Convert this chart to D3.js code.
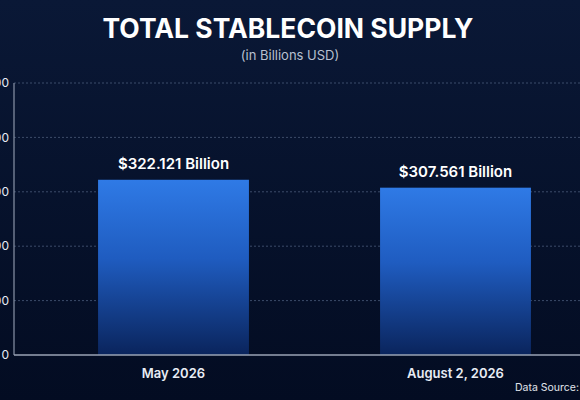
<!DOCTYPE html>
<html>
<head>
<meta charset="utf-8">
<script src="https://cdn.jsdelivr.net/npm/d3@7"></script>
<style>
  body { margin: 0; background: #04102a; overflow: hidden; }
  svg { display: block; font-family: "Inter", "Noto Sans", sans-serif; }
</style>
</head>
<body>
<svg width="580" height="400"></svg>
<script>
// chart data
const categories = ["May 2026", "August 2, 2026"];
const supply = [322.121, 307.561];
const labels = ["$322.121 Billion", "$307.561 Billion"];
const yTicks = [0, 100, 200, 300, 400, 500];

const svg = d3.select("svg");
const W = 580, H = 400;

// background gradient
const defs = svg.append("defs");
const bg = defs.append("linearGradient").attr("id", "bg").attr("x1", 0).attr("y1", 0).attr("x2", 0).attr("y2", 1);
bg.append("stop").attr("offset", "0%").attr("stop-color", "#0a1836");
bg.append("stop").attr("offset", "100%").attr("stop-color", "#030c22");
const barGrad = defs.append("linearGradient").attr("id", "bar").attr("x1", 0).attr("y1", 0).attr("x2", 0).attr("y2", 1);
barGrad.append("stop").attr("offset", "0%").attr("stop-color", "#2f7ae6");
barGrad.append("stop").attr("offset", "45%").attr("stop-color", "#1f5cc0");
barGrad.append("stop").attr("offset", "100%").attr("stop-color", "#0a245c");
svg.append("rect").attr("width", W).attr("height", H).attr("fill", "url(#bg)");

const margin = { left: 14, right: 0, top: 83, bottom: 45 };
const x = d3.scaleBand().domain(categories).range([32.5, 596.5]).paddingInner(0.465).paddingOuter(0.2325);
const y = d3.scaleLinear().domain([0, 500]).range([H - margin.bottom, margin.top]);

// gridlines
svg.append("g").selectAll("line").data(yTicks.slice(1)).join("line")
  .attr("x1", margin.left).attr("x2", W)
  .attr("y1", d => y(d)).attr("y2", d => y(d))
  .attr("stroke", "#4a5a78").attr("stroke-dasharray", "2,2").attr("stroke-width", 0.8);

// y tick labels (mostly clipped at left edge, as in the source image)
svg.append("g").selectAll("text").data(yTicks).join("text")
  .attr("x", 9).attr("y", d => y(d)).attr("dy", "0.35em")
  .attr("text-anchor", "end").attr("fill", "#e8ecf4").attr("font-size", 12)
  .text(d => d);

// bars
svg.append("g").selectAll("rect").data(supply).join("rect")
  .attr("x", (d, i) => x(categories[i]))
  .attr("width", x.bandwidth())
  .attr("y", d => y(d))
  .attr("height", d => y(0) - y(d))
  .attr("fill", "url(#bar)");

// value labels
svg.append("g").selectAll("text").data(supply).join("text")
  .attr("x", (d, i) => x(categories[i]) + x.bandwidth() / 2)
  .attr("y", d => y(d) - 11)
  .attr("text-anchor", "middle").attr("fill", "#fff")
  .attr("font-size", 15).attr("font-weight", 600)
  .text((d, i) => labels[i]);

// axes lines
svg.append("line").attr("x1", margin.left).attr("x2", margin.left)
  .attr("y1", y(500)).attr("y2", y(0)).attr("stroke", "#8a94a8").attr("stroke-width", 1.2);
svg.append("line").attr("x1", margin.left).attr("x2", W)
  .attr("y1", y(0)).attr("y2", y(0)).attr("stroke", "#9aa3b5").attr("stroke-width", 1.5);

// category labels
svg.append("g").selectAll("text").data(categories).join("text")
  .attr("x", d => x(d) + x.bandwidth() / 2)
  .attr("y", y(0) + 23)
  .attr("text-anchor", "middle").attr("fill", "#e8ecf4")
  .attr("font-size", 13).attr("font-weight", 600)
  .text(d => d);

// titles
svg.append("text").attr("x", 288).attr("y", 38).attr("text-anchor", "middle")
  .attr("fill", "#fff").attr("font-size", 26.5).attr("font-weight", 700)
  .text("TOTAL STABLECOIN SUPPLY");
svg.append("text").attr("x", 290).attr("y", 60).attr("text-anchor", "middle")
  .attr("fill", "#b8c0d0").attr("font-size", 13)
  .text("(in Billions USD)");
svg.append("text").attr("x", 515).attr("y", 391)
  .attr("fill", "#e0e4ec").attr("font-size", 10.5)
  .text("Data Source: coingecko");
</script>
</body>
</html>
